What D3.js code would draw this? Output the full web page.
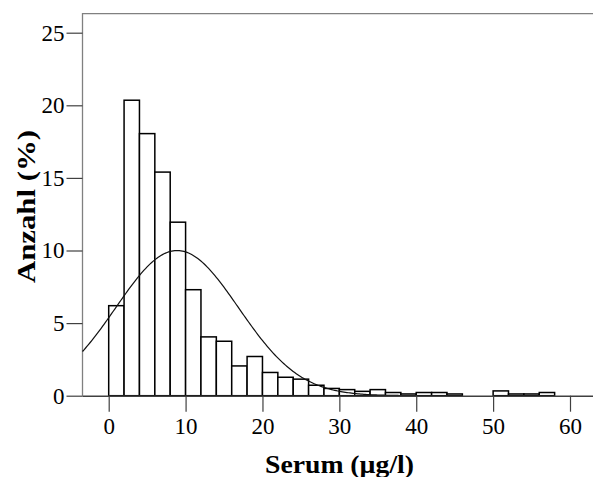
<!DOCTYPE html>
<html>
<head>
<meta charset="utf-8">
<script src="https://cdn.jsdelivr.net/npm/d3@7"></script>
<style>
  body { margin: 0; background: #fff; }
  svg { display: block; }
  .tick text { font-family: "Liberation Serif", "Times New Roman", serif; font-size: 23px; fill: #000; }
  .axis-title { font-family: "Liberation Serif", "Times New Roman", serif; font-weight: bold; font-size: 25px; fill: #000; }
</style>
</head>
<body>
<div id="chart"></div>
<script>
// histogram bins (lower edge, µg/l), bin width 2
const binStart = [0, 2, 4, 6, 8, 10, 12, 14, 16, 18, 20, 22, 24, 26, 28, 30, 32, 34, 36, 38, 40, 42, 44, 50, 52, 54, 56];
// share of cases in %
const percent = [6.2, 20.35, 18.05, 15.4, 11.95, 7.3, 4.05, 3.75, 2.05, 2.7, 1.6, 1.27, 1.14, 0.72, 0.5, 0.42, 0.3, 0.42, 0.22, 0.12, 0.22, 0.22, 0.12, 0.33, 0.12, 0.12, 0.22];
const binWidth = 2;
const xTicks = [0, 10, 20, 30, 40, 50, 60];
const yTicks = [0, 5, 10, 15, 20, 25];
// fitted normal curve
const fitMean = 8.9;
const fitSd = 7.98;

const width = 593, height = 477;

const svg = d3.select("#chart").append("svg")
  .attr("width", width)
  .attr("height", height);

const x = d3.scaleLinear().domain([0, 60]).range([108.7, 570]);
const y = d3.scaleLinear().domain([0, 25]).range([395.7, 32.7]);

const plotLeft = 82.5, plotTop = 13.7;
const xLeft = x.invert(plotLeft);

// frame (top line + left axis line)
svg.append("path")
  .attr("d", `M${width + 5},${plotTop}H${plotLeft}V${y(0)}`)
  .attr("fill", "none")
  .attr("stroke", "#808080")
  .attr("stroke-width", 1.3);

// bars
svg.append("g").selectAll("rect")
  .data(binStart.map((s, i) => ({ s, v: percent[i] })))
  .join("rect")
  .attr("x", d => x(d.s))
  .attr("y", d => y(d.v))
  .attr("width", d => x(d.s + binWidth) - x(d.s))
  .attr("height", d => y(0) - y(d.v))
  .attr("fill", "#fff")
  .attr("stroke", "#000")
  .attr("stroke-width", 1.5);

// normal curve, scaled to % per bin
const dens = v => 100 * binWidth / (fitSd * Math.sqrt(2 * Math.PI)) * Math.exp(-((v - fitMean) ** 2) / (2 * fitSd * fitSd));
const curvePts = d3.range(xLeft, 40, 0.2).map(v => [v, dens(v)]);
svg.append("path")
  .datum(curvePts)
  .attr("fill", "none")
  .attr("stroke", "#111")
  .attr("stroke-width", 1.2)
  .attr("d", d3.line().x(d => x(d[0])).y(d => y(d[1])));

// x axis
const xAxis = svg.append("g")
  .attr("transform", `translate(0,${y(0)})`)
  .call(d3.axisBottom(x).tickValues(xTicks).tickSize(16).tickPadding(6).tickSizeOuter(0));
xAxis.select(".domain").attr("d", `M${plotLeft},0.5H${width + 5}`).attr("stroke", "#404040").attr("stroke-width", 1.5);
xAxis.selectAll(".tick line").attr("stroke", "#404040").attr("stroke-width", 1.2);

// y axis
const yAxis = svg.append("g")
  .attr("transform", `translate(${plotLeft},0)`)
  .call(d3.axisLeft(y).tickValues(yTicks).tickSize(16).tickPadding(2).tickSizeOuter(0));
yAxis.select(".domain").remove();
yAxis.selectAll(".tick line").attr("stroke", "#404040").attr("stroke-width", 1.2);

// titles
svg.append("text")
  .attr("class", "axis-title")
  .attr("x", 339.5)
  .attr("y", 472.5)
  .attr("text-anchor", "middle")
  .attr("textLength", 149)
  .attr("lengthAdjust", "spacingAndGlyphs")
  .text("Serum (µg/l)");

svg.append("text")
  .attr("class", "axis-title")
  .attr("transform", "translate(35,206.5) rotate(-90)")
  .attr("text-anchor", "middle")
  .attr("textLength", 153)
  .attr("lengthAdjust", "spacingAndGlyphs")
  .text("Anzahl (%)");
</script>
</body>
</html>
